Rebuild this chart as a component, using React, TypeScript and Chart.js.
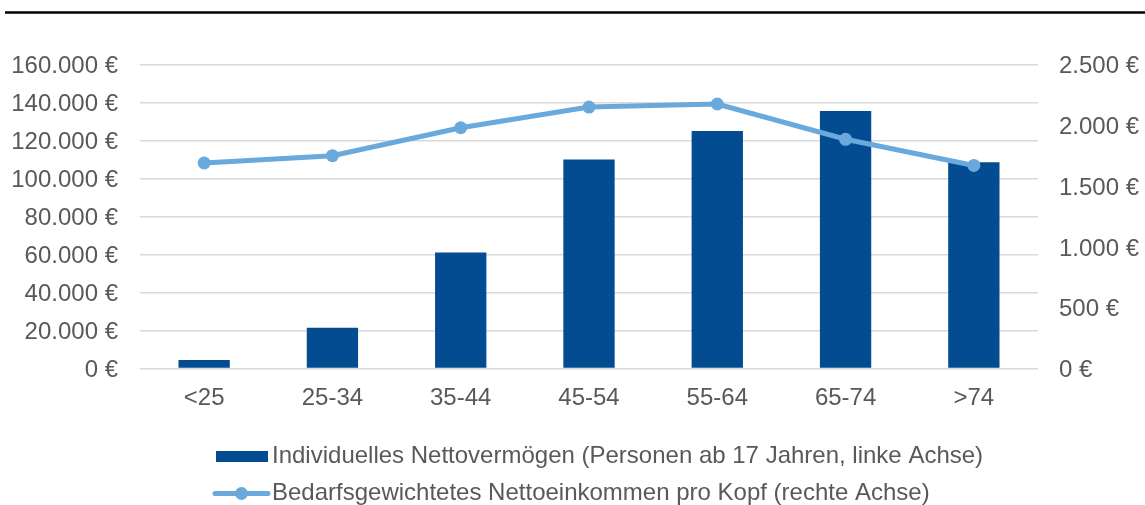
import React, { useEffect, useRef } from "react";
import { Chart, registerables } from "chart.js";

Chart.register(...registerables);

const categories = ["<25", "25-34", "35-44", "45-54", "55-64", "65-74", ">74"];
const nettovermoegen = [4500, 21500, 61000, 110000, 125000, 135500, 108500];
const nettoeinkommen = [1690, 1750, 1980, 2150, 2175, 1885, 1670];

const labelVermoegen = "Individuelles Nettovermögen (Personen ab 17 Jahren, linke Achse)";
const labelEinkommen = "Bedarfsgewichtetes Nettoeinkommen pro Kopf (rechte Achse)";

const BAR_COLOR = "#034C91";
const LINE_COLOR = "#69A9DB";
const TEXT_COLOR = "#595959";
const GRID_COLOR = "#D9D9D9";
const FONT_FAMILY = "'Liberation Sans', Arial, sans-serif";
const FONT_SIZE = 24;

const W = 1145;
const H = 505;

function euro(v: number): string {
  const s = Math.round(v).toString().replace(/\B(?=(\d{3})+(?!\d))/g, ".");
  return s + " €";
}

// Top rule and the stacked legend below the x axis
const decorations = {
  id: "decorations",
  afterDraw(chart: any) {
    const ctx = chart.ctx as CanvasRenderingContext2D;
    ctx.save();
    ctx.strokeStyle = "#000";
    ctx.lineWidth = 2.5;
    ctx.beginPath();
    ctx.moveTo(5, 12.5);
    ctx.lineTo(W, 12.5);
    ctx.stroke();

    const ds = chart.data.datasets;
    ctx.font = `${FONT_SIZE}px ${FONT_FAMILY}`;
    ctx.fillStyle = TEXT_COLOR;
    ctx.textBaseline = "middle";
    ctx.textAlign = "left";

    // bar entry
    const row1 = 456.5;
    ctx.fillStyle = ds[0].backgroundColor;
    ctx.fillRect(216, row1 - 5.5, 52, 11);
    ctx.fillStyle = TEXT_COLOR;
    ctx.fillText(ds[0].label, 272, row1);

    // line entry
    const row2 = 493.5;
    ctx.strokeStyle = ds[1].borderColor;
    ctx.lineWidth = 5;
    ctx.lineCap = "round";
    ctx.beginPath();
    ctx.moveTo(215, row2);
    ctx.lineTo(268, row2);
    ctx.stroke();
    ctx.fillStyle = ds[1].borderColor;
    ctx.beginPath();
    ctx.arc(241.5, row2, 6.5, 0, Math.PI * 2);
    ctx.fill();
    ctx.fillStyle = TEXT_COLOR;
    ctx.fillText(ds[1].label, 272, row2);
    ctx.restore();
  },
};

export default function App() {
  const ref = useRef<HTMLCanvasElement | null>(null);

  useEffect(() => {
    if (!ref.current) return;
    const chart = new Chart(ref.current, {
      type: "bar",
      data: {
        labels: categories,
        datasets: [
          {
            type: "bar",
            label: labelVermoegen,
            data: nettovermoegen,
            backgroundColor: BAR_COLOR,
            yAxisID: "y",
            barPercentage: 0.4,
            categoryPercentage: 1,
            order: 2,
          },
          {
            type: "line",
            label: labelEinkommen,
            data: nettoeinkommen,
            borderColor: LINE_COLOR,
            backgroundColor: LINE_COLOR,
            borderWidth: 5,
            pointRadius: 6.5,
            pointBorderWidth: 0,
            pointBackgroundColor: LINE_COLOR,
            tension: 0,
            yAxisID: "y1",
            order: 1,
          },
        ] as any,
      },
      options: {
        responsive: false,
        animation: false,
        layout: { padding: { top: 64.5, bottom: 76.5, left: 0, right: 0 } },
        plugins: {
          legend: { display: false },
          tooltip: { enabled: false },
        },
        scales: {
          x: {
            grid: { display: false },
            border: { display: false },
            ticks: {
              color: TEXT_COLOR,
              font: { family: FONT_FAMILY, size: FONT_SIZE },
              padding: 7,
            },
            afterFit: (s: any) => {
              s.height = 60;
            },
          },
          y: {
            position: "left",
            min: 0,
            max: 160000,
            border: { display: false },
            grid: { color: GRID_COLOR, lineWidth: 1.5, drawTicks: false },
            ticks: {
              stepSize: 20000,
              color: TEXT_COLOR,
              font: { family: FONT_FAMILY, size: FONT_SIZE },
              padding: 22,
              labelOffset: 2,
              callback: (v: any) => euro(Number(v)),
            },
            afterFit: (s: any) => {
              s.width = 140;
            },
          },
          y1: {
            position: "right",
            min: 0,
            max: 2500,
            border: { display: false },
            grid: { drawOnChartArea: false, drawTicks: false },
            ticks: {
              stepSize: 500,
              color: TEXT_COLOR,
              font: { family: FONT_FAMILY, size: FONT_SIZE },
              padding: 21,
              labelOffset: 2,
              callback: (v: any) => euro(Number(v)),
            },
            afterFit: (s: any) => {
              s.width = W - 1038;
            },
          },
        },
      } as any,
      plugins: [decorations],
    });
    return () => chart.destroy();
  }, []);

  return (
    <div style={{ position: "fixed", left: 0, top: 0, width: W, height: H, background: "#fff" }}>
      <canvas ref={ref} width={W} height={H} style={{ display: "block", width: W, height: H }} />
    </div>
  );
}
